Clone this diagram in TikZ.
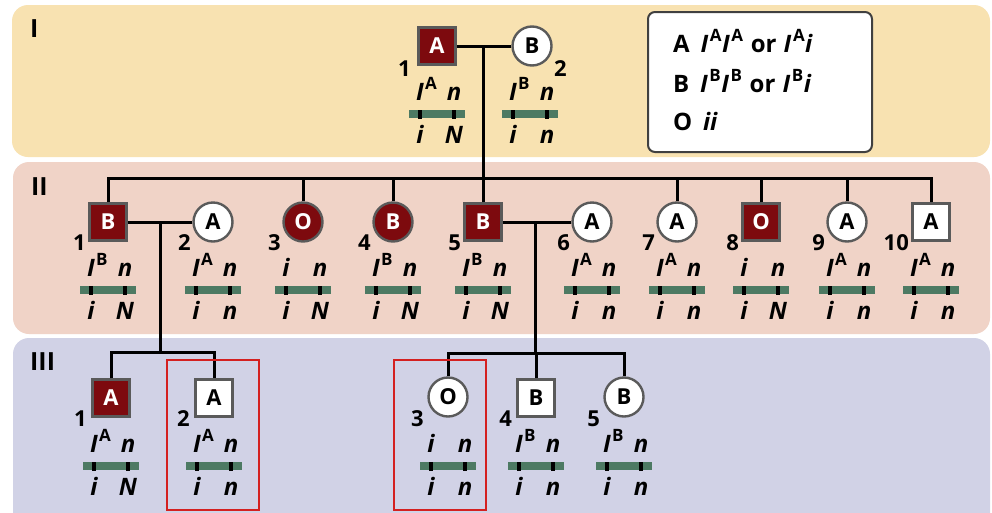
\documentclass[tikz,border=0pt]{standalone}
\usepackage{fontspec}
\setmainfont{Open Sans}
\definecolor{dred}{HTML}{7D0A0E}
\definecolor{symgray}{HTML}{5A5A5A}
\definecolor{barc}{HTML}{4D7A63}
\definecolor{bandI}{HTML}{F8E2B1}
\definecolor{bandII}{HTML}{F0D3C7}
\definecolor{bandIII}{HTML}{D1D2E6}
\definecolor{keyborder}{HTML}{404040}
\definecolor{boxred}{HTML}{D42020}
\newcommand\supr[1]{\rlap{\hspace{0.05em}\raisebox{0.42em}{\upshape\fontsize{17}{17}\selectfont #1}}}
\newcommand\supw[1]{\hspace{0.06em}\raisebox{0.42em}{\upshape\fontsize{17}{17}\selectfont #1}\hspace{0.02em}}
\newcommand\IA{\textit{I}\supr{A}}
\newcommand\IB{\textit{I}\supr{B}}
\tikzset{
  sym/.style={draw=symgray, line width=2.4pt, inner sep=0pt, font=\bfseries\fontsize{22}{22}\selectfont},
  male/.style={sym, rectangle, minimum size=37pt},
  female/.style={sym, circle, minimum size=39pt},
  affected/.style={fill=dred, text=white},
  unaff/.style={fill=white, text=black},
  line/.style={line width=3pt, black},
  allele/.style={inner sep=0pt, anchor=base, font=\bfseries\itshape\fontsize{24}{26}\selectfont},
  num/.style={inner sep=0pt, anchor=east, font=\bfseries\fontsize{22}{22}\selectfont},
  gen/.style={inner sep=0pt, anchor=base west, font=\bfseries\fontsize{25}{25}\selectfont},
  keytext/.style={inner sep=0pt, anchor=base west, font=\bfseries\fontsize{24}{26}\selectfont},
  band/.style={rounded corners=16pt},
  redbox/.style={draw=boxred, line width=1.4pt}
}
% #1 name prefix, #2 x, #3 y, #4..#7 alleles
\newcommand\geno[7]{%
  \fill[barc] ({#2-28},{#3+64}) rectangle ({#2+28},{#3+72});
  \fill[black] ({#2-19},{#3+63.5}) rectangle ({#2-15},{#3+72.5});
  \fill[black] ({#2+15},{#3+63.5}) rectangle ({#2+19},{#3+72.5});
  \node[allele] (#1tl) at ({#2-17},{#3+54}) {#4};
  \node[allele] (#1tr) at ({#2+17},{#3+54}) {#5};
  \node[allele] (#1bl) at ({#2-17},{#3+97}) {#6};
  \node[allele] (#1br) at ({#2+17},{#3+97}) {#7};
}
\begin{document}
\begin{tikzpicture}[x=1pt,y=-1pt]
\clip (0,0) rectangle (992,512);
\useasboundingbox (0,0) rectangle (992,512);
\fill[white] (0,0) rectangle (992,512);
% bands
\fill[bandI, band] (12,5) rectangle (990,157);
\fill[bandII, band] (13,162) rectangle (990,334);
\fill[bandIII, band] (13,338) rectangle (990,540);
\node[gen] (gI) at (30,37) {I};
\node[gen] (gII) at (31,195) {II};
\node[gen] (gIII) at (30,370) {III};
% legend
\node[draw=keyborder, fill=white, line width=2pt, rounded corners=7pt, minimum width=224pt, minimum height=140pt] (key) at (760,82) {};
\node[keytext] (key1) at (673,52) {A\hspace{0.45em}\textit{I}\supw{A}\textit{I}\supw{A}\hspace{0.3em}or\hspace{0.3em}\textit{I}\supw{A}\textit{i}};
\node[keytext] (key2) at (673,92) {B\hspace{0.45em}\textit{I}\supw{B}\textit{I}\supw{B}\hspace{0.3em}or\hspace{0.3em}\textit{I}\supw{B}\textit{i}};
\node[keytext] (key3) at (673,130) {O\hspace{0.45em}\textit{ii}};
% generation I
\node[male, affected] (I1) at (437,46) {A};
\node[female, unaff] (I2) at (532,46) {B};
\node[num] (nI1) at (411,69) {1};
\node[num, anchor=west] (nI2) at (554,69) {2};
\geno{gI1}{437}{46}{\IA}{n}{i}{N}
\geno{gI2}{530}{46}{\IB}{n}{i}{n}
% generation II
\node[male, affected] (II1) at (108,222) {B};
\node[female, unaff] (II2) at (213,222) {A};
\node[female, affected] (II3) at (303,222) {O};
\node[female, affected] (II4) at (393,222) {B};
\node[male, affected] (II5) at (483,222) {B};
\node[female, unaff] (II6) at (592,222) {A};
\node[female, unaff] (II7) at (677,222) {A};
\node[male, affected] (II8) at (761,222) {O};
\node[female, unaff] (II9) at (847,222) {A};
\node[male, unaff] (II10) at (931,222) {A};
\foreach \n/\x in {1/108,2/213,3/303,4/393,5/483,6/592,7/677,8/761,9/847,10/931}{
  \node[num] (nII\n) at ({\x-22},243) {\n};
}
\geno{gII1}{108}{222}{\IB}{n}{i}{N}
\geno{gII2}{213}{222}{\IA}{n}{i}{n}
\geno{gII3}{303}{222}{i}{n}{i}{N}
\geno{gII4}{393}{222}{\IB}{n}{i}{N}
\geno{gII5}{483}{222}{\IB}{n}{i}{N}
\geno{gII6}{592}{222}{\IA}{n}{i}{n}
\geno{gII7}{677}{222}{\IA}{n}{i}{n}
\geno{gII8}{761}{222}{i}{n}{i}{N}
\geno{gII9}{847}{222}{\IA}{n}{i}{n}
\geno{gII10}{931}{222}{\IA}{n}{i}{n}
% generation III
\node[male, affected] (III1) at (111,398) {A};
\node[male, unaff] (III2) at (214,398) {A};
\node[female, unaff] (III3) at (448,397) {O};
\node[male, unaff] (III4) at (536,398) {B};
\node[female, unaff] (III5) at (624,397) {B};
\foreach \n/\x in {1/111,2/214,3/448,4/536,5/624}{
  \node[num] (nIII\n) at ({\x-24},419) {\n};
}
\geno{gIII1}{111}{398}{\IA}{n}{i}{N}
\geno{gIII2}{214}{398}{\IA}{n}{i}{n}
\geno{gIII3}{448}{398}{i}{n}{i}{n}
\geno{gIII4}{536}{398}{\IB}{n}{i}{n}
\geno{gIII5}{624}{398}{\IB}{n}{i}{n}
% connectors
\coordinate (m1) at (483,46);
\coordinate (s1) at (483,178);
\draw[line] (I1) -- (I2);
\draw[line] (m1) -- (s1);
\draw[line] (II1.north) |- (II10.north |- s1) -- (II10.north);
\foreach \k in {3,4,5,7,8,9}{\draw[line] (II\k.north) -- (II\k.north |- s1);}
\coordinate (m2) at (160,222);
\coordinate (s2) at (160,352);
\draw[line] (II1) -- (II2);
\draw[line] (m2) -- (s2);
\draw[line] (III1.north) |- (III2.north |- s2) -- (III2.north);
\coordinate (m3) at (535,222);
\coordinate (s3) at (535,353);
\draw[line] (II5) -- (II6);
\draw[line] (m3) -- (s3);
\draw[line] (III3.north) |- (III5.north |- s3) -- (III5.north);
\draw[line] (III4.north) -- (III4.north |- s3);
% highlight boxes
\draw[redbox] (167,360) rectangle (259,510);
\draw[redbox] (394,360) rectangle (486,510);
\end{tikzpicture}
\end{document}
